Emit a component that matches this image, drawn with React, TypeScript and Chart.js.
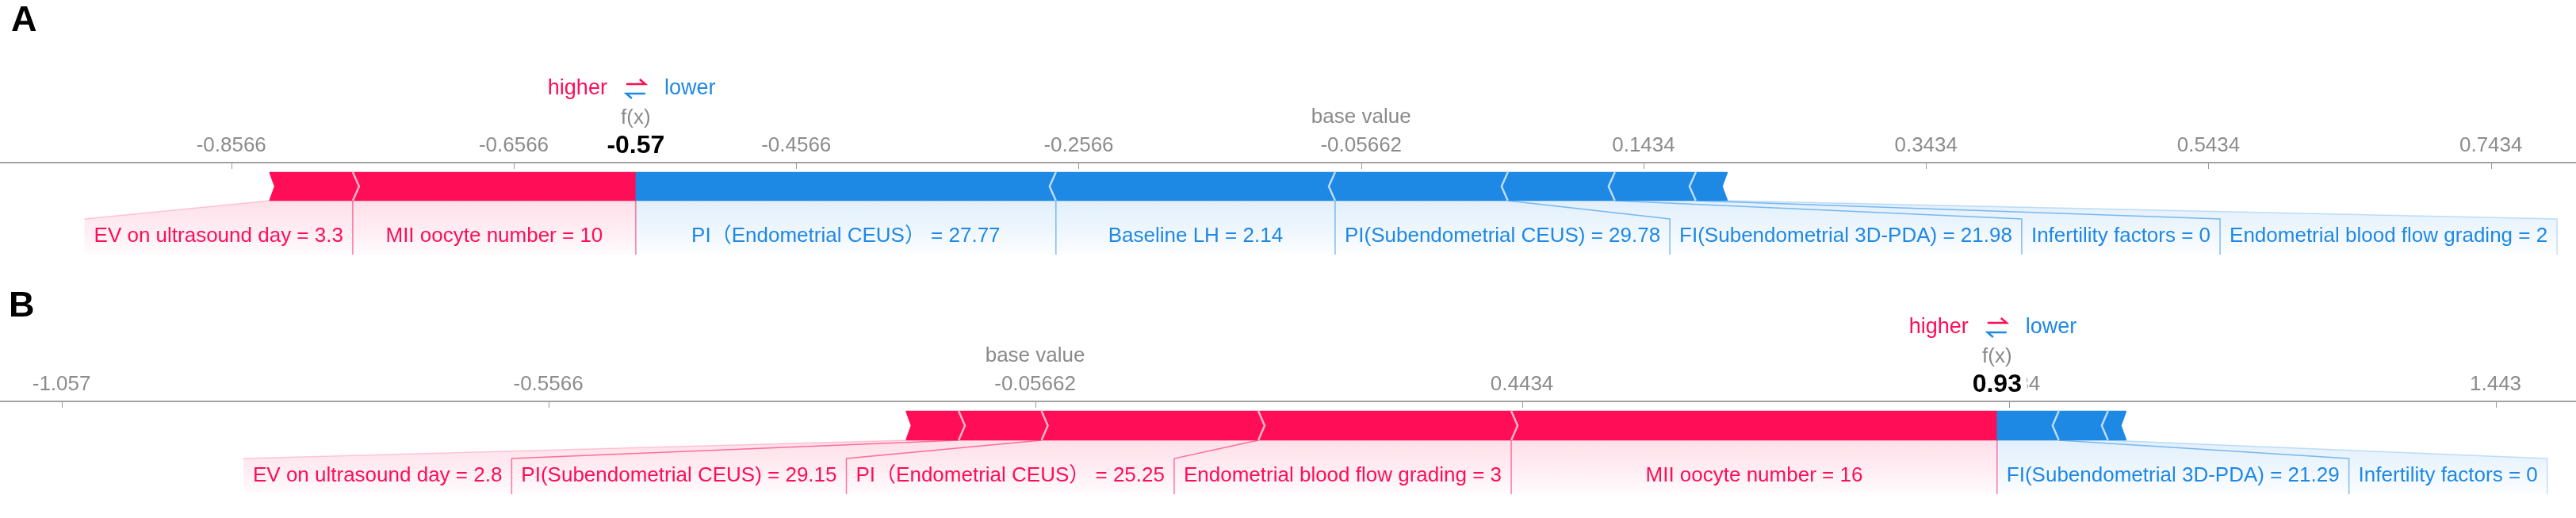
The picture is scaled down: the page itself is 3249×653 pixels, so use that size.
import React, { useEffect, useRef } from 'react';
import { Chart, registerables } from 'chart.js';

Chart.register(...registerables);

const RED = '#ff0d57';
const BLUE = '#1e88e5';
const FONT = '"Liberation Sans", Arial, "Noto Sans CJK SC", sans-serif';

// ---------- Panel A ----------
const featureNamesA = [
  'EV on ultrasound day',
  'MII oocyte number',
  'PI（Endometrial CEUS）',
  'Baseline LH',
  'PI(Subendometrial CEUS)',
  'FI(Subendometrial 3D-PDA)',
  'Infertility factors',
  'Endometrial blood flow grading',
];
const featureValuesA = ['3.3', '10', '27.77', '2.14', '29.78', '21.98', '0', '2'];
const shapValuesA = [0.059, 0.2004, -0.2975, -0.1977, -0.1223, -0.0758, -0.0573, -0.0224];
const showLabelA = [true, true, true, true, true, true, true, true];
const baseValueA = -0.05662;
const tickValuesA = [-0.85662, -0.65662, -0.45662, -0.25662, -0.05662, 0.14338, 0.34338, 0.54338, 0.74338];
const tickLabelsA = ['-0.8566', '-0.6566', '-0.4566', '-0.2566', '-0.05662', '0.1434', '0.3434', '0.5434', '0.7434'];
const axisRangeA = [-1.0204, 0.8036];

// ---------- Panel B ----------
const featureNamesB = [
  'EV on ultrasound day',
  'MII oocyte number',
  'PI（Endometrial CEUS）',
  'Baseline LH',
  'PI(Subendometrial CEUS)',
  'FI(Subendometrial 3D-PDA)',
  'Infertility factors',
  'Endometrial blood flow grading',
];
const featureValuesB = ['2.8', '16', '25.25', '', '29.15', '21.29', '0', '3'];
const shapValuesB = [0.0541, 0.499, 0.2227, -0.0187, 0.0851, -0.0635, -0.0505, 0.2598];
const showLabelB = [true, true, true, false, true, true, true, true];
const baseValueB = -0.05662;
const tickValuesB = [-1.05662, -0.55662, -0.05662, 0.44338, 0.94338, 1.44338];
const tickLabelsB = ['-1.057', '-0.5566', '-0.05662', '0.4434', '0.9434', '1.443'];
const axisRangeB = [-1.1198, 1.526];

type Seg = { label: string; shap: number; show: boolean; start: number; end: number };

function buildSegments(names: string[], values: string[], shap: number[], show: boolean[], base: number) {
  const fx = base + shap.reduce((a, b) => a + b, 0);
  const items = names.map((n, i) => ({ label: `${n} = ${values[i]}`, shap: shap[i], show: show[i] }));
  const pos = items.filter((d) => d.shap > 0).sort((a, b) => b.shap - a.shap);
  const neg = items.filter((d) => d.shap < 0).sort((a, b) => a.shap - b.shap);
  let cur = fx;
  const red: Seg[] = pos.map((d) => {
    const end = cur;
    const start = cur - d.shap;
    cur = start;
    return { ...d, start, end };
  });
  cur = fx;
  const blue: Seg[] = neg.map((d) => {
    const start = cur;
    const end = cur - d.shap;
    cur = end;
    return { ...d, start, end };
  });
  return { fx, red, blue };
}

function rgba(hex: string, a: number) {
  const r = parseInt(hex.slice(1, 3), 16);
  const g = parseInt(hex.slice(3, 5), 16);
  const b = parseInt(hex.slice(5, 7), 16);
  return `rgba(${r},${g},${b},${a})`;
}

type PanelCfg = {
  names: string[];
  values: string[];
  shap: number[];
  show: boolean[];
  base: number;
  ticks: number[];
  tickLabels: string[];
  range: number[];
  axisY: number;
  barCenter: number;
  barThickness: number;
  height: number;
};

const panelA: PanelCfg = {
  names: featureNamesA,
  values: featureValuesA,
  shap: shapValuesA,
  show: showLabelA,
  base: baseValueA,
  ticks: tickValuesA,
  tickLabels: tickLabelsA,
  range: axisRangeA,
  axisY: 205,
  barCenter: 235,
  barThickness: 36,
  height: 330,
};

const panelB: PanelCfg = {
  names: featureNamesB,
  values: featureValuesB,
  shap: shapValuesB,
  show: showLabelB,
  base: baseValueB,
  ticks: tickValuesB,
  tickLabels: tickLabelsB,
  range: axisRangeB,
  axisY: 176,
  barCenter: 206.5,
  barThickness: 37,
  height: 323,
};

const W = 3249;
const AXIS_H = 40;
const LABEL_PAD = 12;
const CHEV = 8;
const NOTCH = 6;

function makeChart(canvas: HTMLCanvasElement, p: PanelCfg) {
  const seg = buildSegments(p.names, p.values, p.shap, p.show, p.base);
  const all = [...seg.red, ...seg.blue];
  const colors = [...seg.red.map(() => RED), ...seg.blue.map(() => BLUE)];
  const chartBottom = p.axisY + 2 * (p.barCenter - p.axisY);

  const forcePlugin = {
    id: 'forcePlot',
    afterDatasetsDraw(chart: any) {
      const ctx = chart.ctx as CanvasRenderingContext2D;
      const xs = chart.scales.x;
      const px = (v: number) => xs.getPixelForValue(v);
      const el = chart.getDatasetMeta(0).data[0];
      const { y: cy, height: bh } = el.getProps(['y', 'height'], true);
      const top = cy - bh / 2;
      const bottom = cy + bh / 2;
      const mid = cy;

      ctx.save();
      // axis tick marks (pointing down)
      ctx.strokeStyle = '#9a9a9a';
      ctx.lineWidth = 1;
      p.ticks.forEach((t) => {
        const x = Math.round(px(t)) + 0.5;
        ctx.beginPath();
        ctx.moveTo(x, p.axisY + 1);
        ctx.lineTo(x, p.axisY + 8);
        ctx.stroke();
      });

      // chevrons between same-colour segments
      ctx.strokeStyle = 'rgba(255,255,255,0.7)';
      ctx.lineWidth = 2.5;
      ctx.lineJoin = 'miter';
      for (let i = 0; i < seg.red.length - 1; i++) {
        const x = px(seg.red[i].start);
        ctx.beginPath();
        ctx.moveTo(x, top);
        ctx.lineTo(x + CHEV, mid);
        ctx.lineTo(x, bottom);
        ctx.stroke();
      }
      for (let i = 0; i < seg.blue.length - 1; i++) {
        const x = px(seg.blue[i].end);
        ctx.beginPath();
        ctx.moveTo(x, top);
        ctx.lineTo(x - CHEV, mid);
        ctx.lineTo(x, bottom);
        ctx.stroke();
      }
      // notches at the outer ends
      ctx.fillStyle = '#ffffff';
      if (seg.red.length) {
        const x = px(seg.red[seg.red.length - 1].start);
        ctx.beginPath();
        ctx.moveTo(x - 1, top - 1);
        ctx.lineTo(x + NOTCH, mid);
        ctx.lineTo(x - 1, bottom + 1);
        ctx.closePath();
        ctx.fill();
      }
      if (seg.blue.length) {
        const x = px(seg.blue[seg.blue.length - 1].end);
        ctx.beginPath();
        ctx.moveTo(x + 1, top - 1);
        ctx.lineTo(x - NOTCH, mid);
        ctx.lineTo(x + 1, bottom + 1);
        ctx.closePath();
        ctx.fill();
      }

      // feature labels
      ctx.font = `26px ${FONT}`;
      const labelTop = bottom + 23;
      const boxBottom = bottom + 68;
      const textY = bottom + 45;
      const fxPx = px(seg.fx);

      type Box = { d: Seg; s: number; e: number; left: number; right: number; color: string };
      const boxes: Box[] = [];
      let edge = fxPx;
      seg.red.forEach((d) => {
        if (!d.show) return;
        const s = px(d.start);
        const e = px(d.end);
        const tw = ctx.measureText(d.label).width;
        const right = Math.min(e, edge);
        const w = Math.max(right - s, tw + 2 * LABEL_PAD);
        const left = right - w;
        edge = left;
        boxes.push({ d, s, e, left, right, color: RED });
      });
      const redCount = boxes.length;
      edge = fxPx;
      seg.blue.forEach((d) => {
        if (!d.show) return;
        const s = px(d.start);
        const e = px(d.end);
        const tw = ctx.measureText(d.label).width;
        const left = Math.max(s, edge);
        const w = Math.max(e - left, tw + 2 * LABEL_PAD);
        const right = left + w;
        edge = right;
        boxes.push({ d, s, e, left, right, color: BLUE });
      });

      boxes.forEach((b, i) => {
        const grad = ctx.createLinearGradient(0, bottom, 0, boxBottom);
        grad.addColorStop(0, rgba(b.color, 0.13));
        grad.addColorStop(0.5, rgba(b.color, 0.08));
        grad.addColorStop(1, rgba(b.color, 0.01));
        ctx.fillStyle = grad;
        ctx.beginPath();
        ctx.moveTo(b.s, bottom);
        ctx.lineTo(b.e, bottom);
        ctx.lineTo(b.right, labelTop);
        ctx.lineTo(b.right, boxBottom);
        ctx.lineTo(b.left, boxBottom);
        ctx.lineTo(b.left, labelTop);
        ctx.closePath();
        ctx.fill();

        const isRed = b.color === RED;
        const isLastBlue = !isRed && i === boxes.length - 1;
        const isOuterRed = isRed && i === redCount - 1;
        // right edge line
        ctx.strokeStyle = rgba(b.color, isLastBlue ? 0.25 : 0.55);
        ctx.lineWidth = 1.5;
        ctx.beginPath();
        ctx.moveTo(b.e, bottom);
        ctx.lineTo(b.right, labelTop);
        ctx.lineTo(b.right, boxBottom);
        ctx.stroke();
        if (isOuterRed) {
          ctx.strokeStyle = rgba(b.color, 0.2);
          ctx.beginPath();
          ctx.moveTo(b.s, bottom);
          ctx.lineTo(b.left, labelTop);
          ctx.stroke();
        }

        ctx.fillStyle = b.color;
        ctx.textAlign = 'center';
        ctx.textBaseline = 'middle';
        ctx.fillText(b.d.label, (b.left + b.right) / 2, textY);
      });
      ctx.restore();
    },
    afterDraw(chart: any) {
      const ctx = chart.ctx as CanvasRenderingContext2D;
      const xs = chart.scales.x;
      const px = (v: number) => xs.getPixelForValue(v);
      const cx = px(seg.fx);
      const bx = px(p.base);
      ctx.save();
      ctx.textAlign = 'center';
      ctx.textBaseline = 'middle';
      ctx.lineJoin = 'round';

      // base value
      ctx.font = `26px ${FONT}`;
      ctx.strokeStyle = '#ffffff';
      ctx.lineWidth = 8;
      ctx.strokeText('base value', bx, p.axisY - 57);
      ctx.fillStyle = '#8a8a8a';
      ctx.fillText('base value', bx, p.axisY - 57);

      // f(x)
      ctx.strokeText('f(x)', cx, p.axisY - 56);
      ctx.fillText('f(x)', cx, p.axisY - 56);

      // value
      ctx.font = `bold 32px ${FONT}`;
      ctx.textBaseline = 'alphabetic';
      const val = seg.fx.toFixed(2);
      ctx.lineWidth = 16;
      ctx.strokeText(val, cx, p.axisY - 12);
      ctx.fillStyle = '#000000';
      ctx.fillText(val, cx, p.axisY - 12);

      // legend: higher ⇄ lower
      const ly = p.axisY - 93;
      ctx.font = `27px ${FONT}`;
      ctx.textBaseline = 'middle';
      ctx.textAlign = 'right';
      ctx.fillStyle = RED;
      ctx.fillText('higher', cx - 36, ly);
      ctx.textAlign = 'left';
      ctx.fillStyle = BLUE;
      ctx.fillText('lower', cx + 36, ly);
      ctx.lineWidth = 2.5;
      ctx.lineJoin = 'miter';
      ctx.lineCap = 'butt';
      ctx.strokeStyle = RED;
      ctx.beginPath();
      ctx.moveTo(cx - 12, ly - 6);
      ctx.lineTo(cx + 12, ly - 6);
      ctx.lineTo(cx + 5, ly - 12);
      ctx.stroke();
      ctx.strokeStyle = BLUE;
      ctx.beginPath();
      ctx.moveTo(cx + 12, ly + 6);
      ctx.lineTo(cx - 12, ly + 6);
      ctx.lineTo(cx - 5, ly + 12);
      ctx.stroke();
      ctx.restore();
    },
  };

  return new Chart(canvas, {
    type: 'bar',
    data: {
      labels: ['f'],
      datasets: [
        {
          data: all.map((s) => ({ x: [s.start, s.end], y: 'f' })) as any,
          backgroundColor: colors,
          borderWidth: 0,
          grouped: false,
          barThickness: p.barThickness,
        } as any,
      ],
    },
    options: {
      indexAxis: 'y',
      animation: false,
      responsive: false,
      maintainAspectRatio: false,
      devicePixelRatio: 1,
      events: [],
      layout: {
        padding: { top: p.axisY - AXIS_H, bottom: p.height - chartBottom, left: 0, right: 0 },
      },
      plugins: { legend: { display: false }, tooltip: { enabled: false } },
      scales: {
        x: {
          type: 'linear',
          position: 'top',
          min: p.range[0],
          max: p.range[1],
          afterBuildTicks: (scale: any) => {
            scale.ticks = p.ticks.map((v) => ({ value: v }));
          },
          afterFit: (scale: any) => {
            scale.height = AXIS_H;
          },
          ticks: {
            callback: (_v: any, i: number) => p.tickLabels[i],
            font: { family: FONT, size: 26 },
            color: '#8c8c8c',
            padding: 6,
            maxRotation: 0,
            autoSkip: false,
          },
          grid: { display: false, drawTicks: false },
          border: { display: true, color: '#a3a3a3', width: 2 },
        },
        y: { type: 'category', display: false, offset: true },
      },
    } as any,
    plugins: [forcePlugin],
  });
}

function ForcePanel({ cfg, top }: { cfg: PanelCfg; top: number }) {
  const ref = useRef<HTMLCanvasElement>(null);
  useEffect(() => {
    const chart = makeChart(ref.current as HTMLCanvasElement, cfg);
    return () => chart.destroy();
  }, [cfg]);
  return (
    <canvas
      ref={ref}
      width={W}
      height={cfg.height}
      style={{ position: 'absolute', left: 0, top, width: W, height: cfg.height, display: 'block' }}
    />
  );
}

const letterStyle: React.CSSProperties = {
  position: 'absolute',
  fontFamily: FONT,
  fontWeight: 'bold',
  fontSize: 45,
  lineHeight: '45px',
  color: '#000',
};

export default function App() {
  return (
    <div
      style={{
        position: 'fixed',
        left: 0,
        top: 0,
        width: W,
        height: 653,
        background: '#ffffff',
        overflow: 'hidden',
      }}
    >
      <ForcePanel cfg={panelA} top={0} />
      <ForcePanel cfg={panelB} top={330} />
      <div style={{ ...letterStyle, left: 14, top: 1 }}>A</div>
      <div style={{ ...letterStyle, left: 11, top: 361 }}>B</div>
    </div>
  );
}
